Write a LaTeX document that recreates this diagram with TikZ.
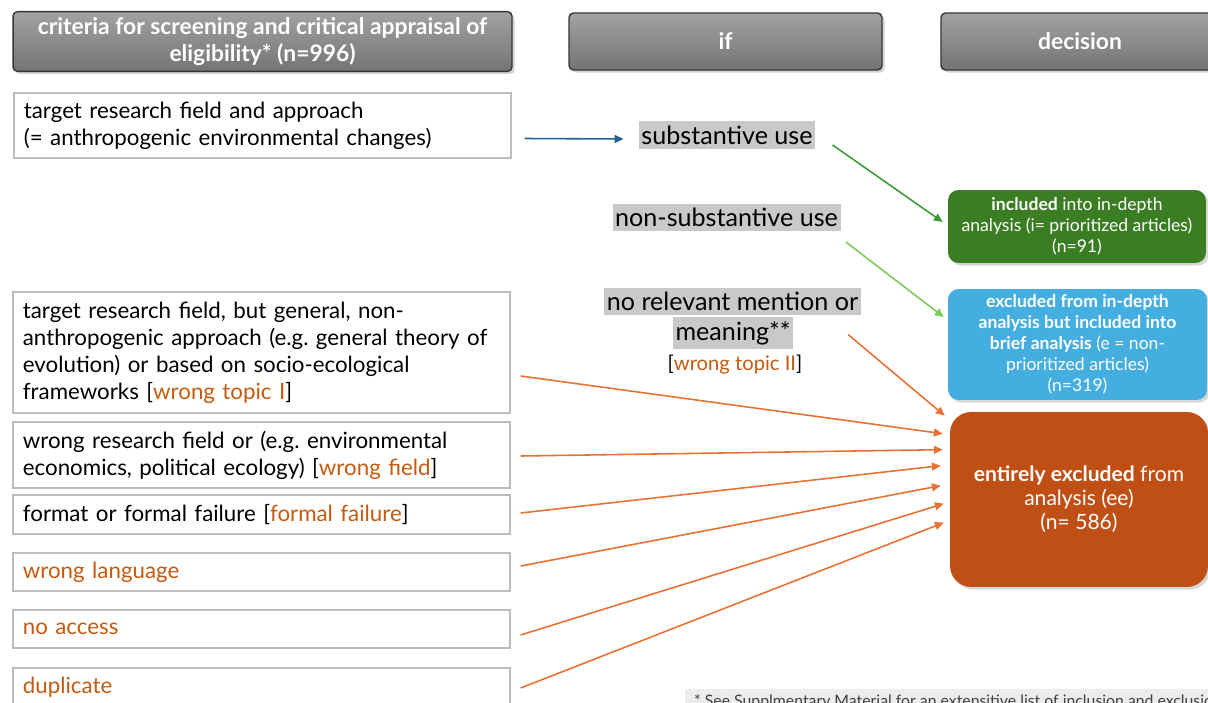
\documentclass[tikz,border=0pt]{standalone}
\usepackage{fontspec}
\setmainfont{Lato}
\usetikzlibrary{arrows.meta,calc,shadows}

\definecolor{hdtop}{HTML}{A2A2A2}
\definecolor{hdbot}{HTML}{747474}
\definecolor{hdline}{HTML}{353535}
\definecolor{critline}{HTML}{BDBDBD}
\definecolor{hlgray}{HTML}{C9C9C9}
\definecolor{inclgreen}{HTML}{3B7D23}
\definecolor{briefblue}{HTML}{45AEE0}
\definecolor{exclorange}{HTML}{C04F15}
\definecolor{arrblue}{HTML}{1F6394}
\definecolor{arrgreen}{HTML}{3E9A36}
\definecolor{arrlight}{HTML}{7CCB5A}
\definecolor{arrorange}{HTML}{E97132}
\definecolor{tagorange}{HTML}{C55A11}
\definecolor{notegray}{HTML}{ECECEC}

\newcommand{\tagtxt}[1]{\textcolor{tagorange}{#1}}
\frenchspacing

\tikzset{
  header/.style={draw=hdline, line width=0.8pt, rounded corners=2.5pt,
    top color=hdtop, bottom color=hdbot, text=white, align=center,
    font=\bfseries\fontsize{13}{15.3}\selectfont,
    drop shadow={opacity=0.35, shadow xshift=1.5pt, shadow yshift=-1.5pt}},
  critbox/.style={draw=critline, line width=1pt, fill=white, anchor=west,
    align=left, inner xsep=0.2cm, text width=9.54cm,
    font=\fontsize{12.7}{15.3}\selectfont},
  ifnote/.style={fill=hlgray, inner xsep=1.5pt, inner ysep=2.5pt,
    font=\fontsize{14.3}{17}\selectfont},
  decision/.style={text=white, align=center, rounded corners=6pt,
    font=\fontsize{10}{11.9}\selectfont,
    drop shadow={opacity=0.3, shadow xshift=1.5pt, shadow yshift=-1.5pt}},
  toexcl/.style={draw=arrorange, line width=0.9pt, -{Triangle[length=5pt,width=4.5pt]}},
}

\begin{document}
\begin{tikzpicture}[x=0.02cm, y=-0.02cm]
  \useasboundingbox (0,0) rectangle (1208,703);
  \fill[white] (0,0) rectangle (1208,703);
  \clip (0,0) rectangle (1208,703);

  % column heads
  \node[header, minimum width=9.98cm, minimum height=1.14cm] (crit) at (262.5,41.5)
    {criteria for screening and critical appraisal of\\eligibility* (n=996)};
  \node[header, minimum width=6.26cm, minimum height=1.14cm] (ifhead) at (725.5,41.5) {if};
  \node[header, minimum width=5.56cm, minimum height=1.14cm] (dechead) at (1080,41.5) {decision};

  % criteria
  \node[critbox, minimum height=1.3cm] (b0) at (13,125.5)
    {target research field and approach\\(= anthropogenic environmental changes)};
  \node[critbox, minimum height=2.42cm] (b1) at (12,352.5)
    {target research field, but general, non-\\anthropogenic approach (e.g. general theory of\\evolution) or based on socio-ecological\\frameworks [\tagtxt{wrong topic I}]};
  \node[critbox, minimum height=1.32cm] (b2) at (12,455)
    {wrong research field or (e.g. environmental\\economics, political ecology) [\tagtxt{wrong field}]};
  \node[critbox, minimum height=0.78cm] (b3) at (12,514.5)
    {format or formal failure [\tagtxt{formal failure}]};
  \node[critbox, minimum height=0.76cm, text=tagorange] (b4) at (12,572) {wrong language};
  \node[critbox, minimum height=0.76cm, text=tagorange] (b5) at (12,629) {no access};
  \node[critbox, minimum height=0.76cm, text=tagorange] (b6) at (12,687) {duplicate};

  % if
  \node[ifnote] (sub) at (727,135) {substantive use};
  \node[ifnote] (nonsub) at (726.5,217.5) {non-substantive use};
  \node[ifnote] (norel) at (732.5,301.5) {no relevant mention or};
  \node[ifnote] (meaning) at (733,333) {meaning**};
  \node[font=\fontsize{11.5}{14}\selectfont] (topic2) at (735,365) {[\tagtxt{wrong topic II}]};

  % decisions
  \node[decision, fill=inclgreen, minimum width=5.16cm, minimum height=1.46cm] (incl) at (1077,226.5)
    {\textbf{included} into in-depth\\analysis (i= prioritized articles)\\(n=91)};
  \node[decision, fill=briefblue, minimum width=5.18cm, minimum height=2.1cm] (brief) at (1077.5,344.5)
    {\textbf{excluded from in-depth}\\\textbf{analysis but included into}\\\textbf{brief analysis} (e = non-\\prioritized articles)\\(n=319)};
  \node[decision, fill=exclorange, rounded corners=12pt, minimum width=5.16cm, minimum height=3.5cm,
    font=\fontsize{12}{13.6}\selectfont] (excl) at (1079,499.5)
    {\textbf{entirely excluded} from\\analysis (ee)\\(n= 586)};

  % footnote
  \node[fill=notegray, anchor=north west, text=black!75, inner xsep=5pt, inner ysep=3pt,
    minimum width=10.6cm, align=left, font=\fontsize{9}{11}\selectfont] (fnote) at (685,689)
    {* See Supplmentary Material for an extensitive list of inclusion and exclusion};

  % ends at the excluded box
  \coordinate (e0) at ($(excl.north west)+(-5,4)$);
  \coordinate (e1) at ($(excl.north west)+(-7,22)$);
  \coordinate (e2) at ($(excl.north west)+(-7,38)$);
  \coordinate (e3) at ($(excl.north west)+(-9,54)$);
  \coordinate (e4) at ($(excl.north west)+(-9,74)$);
  \coordinate (e5) at ($(excl.north west)+(-6,92)$);
  \coordinate (e6) at ($(excl.north west)+(-6,111)$);

  % connectors
  \draw[arrblue, line width=0.9pt, -{Triangle[length=5pt,width=4.5pt]}]
    ($(b0.east)+(13,13)$) -- ($(sub.west)+(-15,4)$);
  \draw[arrgreen, line width=0.9pt, -{Triangle[length=5pt,width=4.5pt]}]
    ($(sub.east)+(17,10)$) -- ($(incl.west)+(-5,-4.5)$);
  \draw[arrlight, line width=0.9pt, -{Triangle[length=5pt,width=4.5pt]}]
    ($(nonsub.east)+(5,24.5)$) -- ($(brief.west)+(-4,-27.5)$);
  \draw[toexcl] ($(norel.south east)+(-13,19)$) -- (e0);
  \draw[toexcl] ($(b1.east)+(10,23.5)$) -- (e1);
  \draw[toexcl] ($(b2.east)+(10,1)$) -- (e2);
  \draw[toexcl] ($(b3.east)+(10,-1.5)$) -- (e3);
  \draw[toexcl] ($(b4.east)+(10,-6)$) -- (e4);
  \draw[toexcl] ($(b5.east)+(10,6)$) -- (e5);
  \draw[toexcl] ($(b6.east)+(10,1)$) -- (e6);
\end{tikzpicture}
\end{document}
